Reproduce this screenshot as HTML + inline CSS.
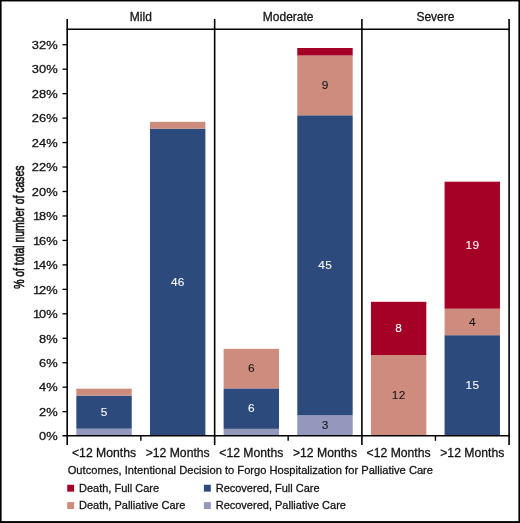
<!DOCTYPE html>
<html><head><meta charset="utf-8"><title>chart</title>
<style>
html,body{margin:0;padding:0;background:#fff;}
body{width:520px;height:523px;overflow:hidden;font-family:"Liberation Sans",sans-serif;}
svg{display:block;will-change:transform;font-family:"Liberation Sans",sans-serif;}
text{font-family:"Liberation Sans",sans-serif;}
</style></head><body>
<svg width="520" height="523" viewBox="0 0 520 523">
<rect x="0" y="0" width="520" height="523" fill="#fff"/>

<rect x="76.33" y="428.70" width="55.40" height="7.30" fill="#9398bc"/>
<rect x="76.33" y="395.60" width="55.40" height="33.10" fill="#2d4a7c"/>
<text transform="translate(104.18,415.75) scale(1.06,1)" font-size="11.2" letter-spacing="0.3" text-anchor="middle" fill="#fff" stroke="#fff" stroke-width="0.08">5</text>
<rect x="76.33" y="388.65" width="55.40" height="6.95" fill="#ce8c7f"/>
<rect x="149.98" y="128.70" width="55.40" height="307.30" fill="#2d4a7c"/>
<text transform="translate(177.83,285.95) scale(1.06,1)" font-size="11.2" letter-spacing="0.3" text-anchor="middle" fill="#fff" stroke="#fff" stroke-width="0.08">46</text>
<rect x="149.98" y="121.80" width="55.40" height="6.90" fill="#ce8c7f"/>
<rect x="223.62" y="428.85" width="55.40" height="7.15" fill="#9398bc"/>
<rect x="223.62" y="388.40" width="55.40" height="40.45" fill="#2d4a7c"/>
<text transform="translate(251.48,412.23) scale(1.06,1)" font-size="11.2" letter-spacing="0.3" text-anchor="middle" fill="#fff" stroke="#fff" stroke-width="0.08">6</text>
<rect x="223.62" y="348.85" width="55.40" height="39.55" fill="#ce8c7f"/>
<text transform="translate(251.48,372.23) scale(1.06,1)" font-size="11.2" letter-spacing="0.3" text-anchor="middle" fill="#141414" stroke="#141414" stroke-width="0.08">6</text>
<rect x="297.28" y="415.30" width="55.40" height="20.70" fill="#9398bc"/>
<text transform="translate(325.13,429.25) scale(1.06,1)" font-size="11.2" letter-spacing="0.3" text-anchor="middle" fill="#141414" stroke="#141414" stroke-width="0.08">3</text>
<rect x="297.28" y="115.30" width="55.40" height="300.00" fill="#2d4a7c"/>
<text transform="translate(325.13,268.90) scale(1.06,1)" font-size="11.2" letter-spacing="0.3" text-anchor="middle" fill="#fff" stroke="#fff" stroke-width="0.08">45</text>
<rect x="297.28" y="55.50" width="55.40" height="59.80" fill="#ce8c7f"/>
<text transform="translate(325.13,89.00) scale(1.06,1)" font-size="11.2" letter-spacing="0.3" text-anchor="middle" fill="#141414" stroke="#141414" stroke-width="0.08">9</text>
<rect x="297.28" y="48.00" width="55.40" height="7.50" fill="#a50026"/>
<rect x="370.93" y="355.10" width="55.40" height="80.90" fill="#ce8c7f"/>
<text transform="translate(398.78,399.15) scale(1.06,1)" font-size="11.2" letter-spacing="0.3" text-anchor="middle" fill="#141414" stroke="#141414" stroke-width="0.08">12</text>
<rect x="370.93" y="301.80" width="55.40" height="53.30" fill="#a50026"/>
<text transform="translate(398.78,332.05) scale(1.06,1)" font-size="11.2" letter-spacing="0.3" text-anchor="middle" fill="#fff" stroke="#fff" stroke-width="0.08">8</text>
<rect x="444.57" y="335.20" width="55.40" height="100.80" fill="#2d4a7c"/>
<text transform="translate(472.43,389.20) scale(1.06,1)" font-size="11.2" letter-spacing="0.3" text-anchor="middle" fill="#fff" stroke="#fff" stroke-width="0.08">15</text>
<rect x="444.57" y="308.70" width="55.40" height="26.50" fill="#ce8c7f"/>
<text transform="translate(472.43,325.55) scale(1.06,1)" font-size="11.2" letter-spacing="0.3" text-anchor="middle" fill="#141414" stroke="#141414" stroke-width="0.08">4</text>
<rect x="444.57" y="181.70" width="55.40" height="127.00" fill="#a50026"/>
<text transform="translate(472.43,248.80) scale(1.06,1)" font-size="11.2" letter-spacing="0.3" text-anchor="middle" fill="#fff" stroke="#fff" stroke-width="0.08">19</text>
<g stroke="#000" stroke-width="1.6" fill="none">
<line x1="67.2" y1="19" x2="67.2" y2="445"/>
<line x1="214.65" y1="19" x2="214.65" y2="445"/>
<line x1="361.9" y1="19" x2="361.9" y2="445"/>
<line x1="509.1" y1="19" x2="509.1" y2="445"/>
<line x1="66.45" y1="29.2" x2="509.85" y2="29.2" stroke-width="1.35"/>
<line x1="62.5" y1="435.75" x2="509.85" y2="435.75" stroke-width="1.6"/>
<line x1="140.85" y1="435.75" x2="140.85" y2="440.8" stroke-width="1.4"/>
<line x1="288.15" y1="435.75" x2="288.15" y2="440.8" stroke-width="1.4"/>
<line x1="435.45" y1="435.75" x2="435.45" y2="440.8" stroke-width="1.4"/>
<line x1="62.5" y1="411.64" x2="67.2" y2="411.64" stroke-width="1.3"/>
<line x1="62.5" y1="387.18" x2="67.2" y2="387.18" stroke-width="1.3"/>
<line x1="62.5" y1="362.72" x2="67.2" y2="362.72" stroke-width="1.3"/>
<line x1="62.5" y1="338.26" x2="67.2" y2="338.26" stroke-width="1.3"/>
<line x1="62.5" y1="313.80" x2="67.2" y2="313.80" stroke-width="1.3"/>
<line x1="62.5" y1="289.34" x2="67.2" y2="289.34" stroke-width="1.3"/>
<line x1="62.5" y1="264.88" x2="67.2" y2="264.88" stroke-width="1.3"/>
<line x1="62.5" y1="240.42" x2="67.2" y2="240.42" stroke-width="1.3"/>
<line x1="62.5" y1="215.96" x2="67.2" y2="215.96" stroke-width="1.3"/>
<line x1="62.5" y1="191.50" x2="67.2" y2="191.50" stroke-width="1.3"/>
<line x1="62.5" y1="167.04" x2="67.2" y2="167.04" stroke-width="1.3"/>
<line x1="62.5" y1="142.58" x2="67.2" y2="142.58" stroke-width="1.3"/>
<line x1="62.5" y1="118.12" x2="67.2" y2="118.12" stroke-width="1.3"/>
<line x1="62.5" y1="93.66" x2="67.2" y2="93.66" stroke-width="1.3"/>
<line x1="62.5" y1="69.20" x2="67.2" y2="69.20" stroke-width="1.3"/>
<line x1="62.5" y1="44.74" x2="67.2" y2="44.74" stroke-width="1.3"/>
</g>
<g font-size="11.6" fill="#141414" stroke="#141414" stroke-width="0.28" text-anchor="end">
<text transform="translate(57.6,440.35) scale(1.11,1)">0%</text>
<text transform="translate(57.6,415.89) scale(1.11,1)">2%</text>
<text transform="translate(57.6,391.43) scale(1.11,1)">4%</text>
<text transform="translate(57.6,366.97) scale(1.11,1)">6%</text>
<text transform="translate(57.6,342.51) scale(1.11,1)">8%</text>
<text transform="translate(40.10,318.05) scale(1.11,1)">1</text>
<text transform="translate(57.6,318.05) scale(1.11,1)">0%</text>
<text transform="translate(40.10,293.59) scale(1.11,1)">1</text>
<text transform="translate(57.6,293.59) scale(1.11,1)">2%</text>
<text transform="translate(40.10,269.13) scale(1.11,1)">1</text>
<text transform="translate(57.6,269.13) scale(1.11,1)">4%</text>
<text transform="translate(40.10,244.67) scale(1.11,1)">1</text>
<text transform="translate(57.6,244.67) scale(1.11,1)">6%</text>
<text transform="translate(40.10,220.21) scale(1.11,1)">1</text>
<text transform="translate(57.6,220.21) scale(1.11,1)">8%</text>
<text transform="translate(57.6,195.75) scale(1.11,1)">20%</text>
<text transform="translate(57.6,171.29) scale(1.11,1)">22%</text>
<text transform="translate(57.6,146.83) scale(1.11,1)">24%</text>
<text transform="translate(57.6,122.37) scale(1.11,1)">26%</text>
<text transform="translate(57.6,97.91) scale(1.11,1)">28%</text>
<text transform="translate(57.6,73.45) scale(1.11,1)">30%</text>
<text transform="translate(57.6,48.99) scale(1.11,1)">32%</text>
</g>
<g font-size="12" fill="#141414" stroke="#141414" stroke-width="0.28" text-anchor="middle">
<text x="140.85" y="21.2">Mild</text>
<text x="288.15" y="21.2">Moderate</text>
<text x="435.45" y="21.2">Severe</text>
</g>
<g font-size="12.2" fill="#141414" stroke="#141414" stroke-width="0.28" text-anchor="middle">
<text x="104.03" y="456.6">&lt;12 Months</text>
<text x="177.68" y="456.6">&gt;12 Months</text>
<text x="251.32" y="456.6">&lt;12 Months</text>
<text x="324.98" y="456.6">&gt;12 Months</text>
<text x="398.62" y="456.6">&lt;12 Months</text>
<text x="472.27" y="456.6">&gt;12 Months</text>
</g>
<text transform="translate(23.5,227.2) rotate(-90) scale(0.745,1)" font-size="14" text-anchor="middle" fill="#141414" stroke="#141414" stroke-width="0.65">% of total number of cases</text>
<text x="67.7" y="474.1" font-size="11.15" fill="#141414" stroke="#141414" stroke-width="0.28">Outcomes, Intentional Decision to Forgo Hospitalization for Palliative Care</text>
<g font-size="11" fill="#141414">
<rect x="67.2" y="484.75" width="6.9" height="6.9" fill="#a50026"/>
<text x="79.0" y="491.50" stroke="#141414" stroke-width="0.28">Death, Full Care</text>
<rect x="67.2" y="502.1" width="6.9" height="6.9" fill="#ce8c7f"/>
<text x="79.0" y="508.85" stroke="#141414" stroke-width="0.28">Death, Palliative Care</text>
<rect x="203.9" y="484.75" width="6.9" height="6.9" fill="#2d4a7c"/>
<text x="215.7" y="491.50" stroke="#141414" stroke-width="0.28">Recovered, Full Care</text>
<rect x="203.9" y="502.1" width="6.9" height="6.9" fill="#9398bc"/>
<text x="215.7" y="508.85" stroke="#141414" stroke-width="0.28">Recovered, Palliative Care</text>
</g>
<g fill="#000"><rect x="0" y="0" width="520" height="1.45"/><rect x="0" y="0" width="1.6" height="523"/><rect x="518.4" y="0" width="1.6" height="523"/><rect x="0" y="521.1" width="520" height="1.9"/></g>
</svg></body></html>
